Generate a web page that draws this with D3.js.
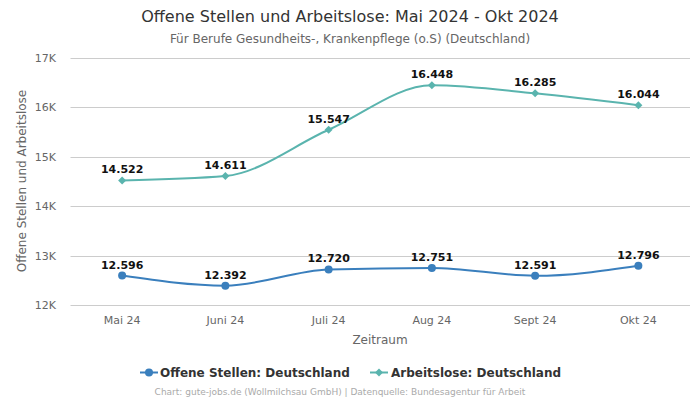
<!DOCTYPE html>
<html><head><meta charset="utf-8">
<script src="https://cdn.jsdelivr.net/npm/d3@7"></script>
<style>body{margin:0;background:#fff;font-family:"DejaVu Sans",sans-serif;}</style>
</head><body>
<svg id="c" width="700" height="400"></svg>
<script>
const categories = ["Mai 24","Juni 24","Juli 24","Aug 24","Sept 24","Okt 24"];
const offeneStellen = [12596,12392,12720,12751,12591,12796];
const arbeitslose = [14522,14611,15547,16448,16285,16044];
const yTicks = [12000,13000,14000,15000,16000,17000];
const seriesNames = ["Offene Stellen: Deutschland","Arbeitslose: Deutschland"];
const colors = ["#3a7fbd","#5ab4ae"];

const svg = d3.select("#c");
const x = d3.scaleBand().domain(categories).range([70.5,690]);
const y = d3.scaleLinear().domain([12000,17000]).range([305,58]);
const fmt = v => d3.format(",")(v).replace(/,/g,".");
const diamond = "M0,-4L4,0L0,4L-4,0Z";

svg.append("text").attr("x",350).attr("y",22).attr("text-anchor","middle")
  .attr("font-size",16).attr("fill","#333").text("Offene Stellen und Arbeitslose: Mai 2024 - Okt 2024");
svg.append("text").attr("x",350).attr("y",43).attr("text-anchor","middle")
  .attr("font-size",12).attr("fill","#666").text("Für Berufe Gesundheits-, Krankenpflege (o.S) (Deutschland)");

// grid
svg.append("g").selectAll("line").data(yTicks).join("line")
  .attr("x1",70.5).attr("x2",690).attr("y1",d=>Math.round(y(d))+0.5).attr("y2",d=>Math.round(y(d))+0.5)
  .attr("stroke","#ccc").attr("stroke-width",1);
svg.append("g").selectAll("text").data(yTicks).join("text")
  .attr("x",56).attr("y",d=>y(d)+4).attr("text-anchor","end").attr("font-size",11).attr("fill","#666")
  .text(d=>(d/1000)+"K");
svg.append("g").selectAll("text").data(categories).join("text")
  .attr("x",d=>x(d)+x.bandwidth()/2).attr("y",324).attr("text-anchor","middle").attr("font-size",11).attr("fill","#666")
  .text(d=>d);
svg.append("text").attr("x",380).attr("y",344).attr("text-anchor","middle").attr("font-size",12).attr("fill","#666").text("Zeitraum");
svg.append("text").attr("transform","translate(26,181) rotate(-90)").attr("text-anchor","middle")
  .attr("font-size",12).attr("fill","#666").text("Offene Stellen und Arbeitslose");

const cx = (d,i)=>x(categories[i])+x.bandwidth()/2;
const line = d3.line().x(cx).y(d=>y(d)).curve(d3.curveMonotoneX);
[offeneStellen, arbeitslose].forEach((s,k)=>{
  const g = svg.append("g");
  g.append("path").attr("d",line(s)).attr("fill","none").attr("stroke",colors[k]).attr("stroke-width",2);
  if(k===0){
    g.selectAll("circle").data(s).join("circle").attr("cx",cx).attr("cy",d=>y(d)).attr("r",4).attr("fill",colors[k]);
  } else {
    g.selectAll("path.m").data(s).join("path").attr("class","m")
      .attr("d",diamond).attr("transform",(d,i)=>`translate(${cx(d,i)},${y(d)})`).attr("fill",colors[k]);
  }
  g.selectAll("text").data(s).join("text").attr("x",cx).attr("y",d=>y(d)-7).attr("text-anchor","middle")
    .attr("font-size",11).attr("font-weight","bold").attr("fill","#111").text(fmt);
});

// legend
const lg = svg.append("g");
const items = [{x:140,tx:160},{x:370,tx:391}];
items.forEach((it,k)=>{
  lg.append("line").attr("x1",it.x).attr("x2",it.x+18).attr("y1",372.5).attr("y2",372.5).attr("stroke",colors[k]).attr("stroke-width",2);
  if(k===0) lg.append("circle").attr("cx",it.x+9).attr("cy",372.5).attr("r",4).attr("fill",colors[k]);
  else lg.append("path").attr("d",diamond).attr("transform",`translate(${it.x+9},372.5)`).attr("fill",colors[k]);
  lg.append("text").attr("x",it.tx).attr("y",377).attr("font-size",12).attr("font-weight","bold").attr("fill","#333").text(seriesNames[k]);
});
svg.append("text").attr("x",340).attr("y",395).attr("text-anchor","middle").attr("font-size",9).attr("fill","#aaa")
  .text("Chart: gute-jobs.de (Wollmilchsau GmbH) | Datenquelle: Bundesagentur für Arbeit");
</script>
</body></html>
